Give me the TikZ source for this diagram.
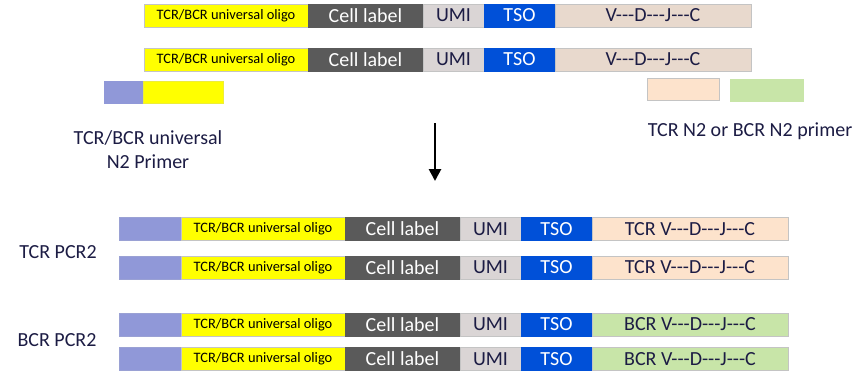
\documentclass[tikz,border=0pt]{standalone}
\usepackage{fontspec}
\setmainfont{Carlito}
\usetikzlibrary{arrows.meta,positioning}
\definecolor{oligoyellow}{HTML}{FFFF00}
\definecolor{cellgrey}{HTML}{5A5A5A}
\definecolor{umigrey}{HTML}{DAD5D5}
\definecolor{tsoblue}{HTML}{0050D8}
\definecolor{vdjtan}{HTML}{E8D9CD}
\definecolor{tcrpeach}{HTML}{FDE3CC}
\definecolor{bcrgreen}{HTML}{C8E5A8}
\definecolor{adapterpurple}{HTML}{9098D8}
\definecolor{navy}{HTML}{1C1C44}
\definecolor{segline}{HTML}{C4C4C4}
\newcommand\tdash{-{}-{}-}
\newcommand\vdjc{V\tdash D\tdash J\tdash C}

\begin{document}
\begin{tikzpicture}[
    x=0.75pt, y=-0.75pt,
    seg/.style={draw=segline, line width=0.5pt, minimum height=17.25pt, inner sep=0pt, outer sep=0pt, text=navy, font=\fontsize{15}{15}\selectfont},
    oligo/.style={seg, fill=oligoyellow, minimum width=123pt, text=black, font=\fontsize{10.8}{11}\selectfont},
    cell/.style={seg, fill=cellgrey, draw=cellgrey, minimum width=86.25pt, text=white},
    umi/.style={seg, fill=umigrey, minimum width=45.75pt},
    tso/.style={seg, fill=tsoblue, draw=tsoblue, minimum width=53.25pt, text=white},
    vdj/.style={seg, minimum width=147pt},
    adapter/.style={seg, fill=adapterpurple, draw=adapterpurple!80!segline, minimum width=46.5pt},
    primer/.style={seg, minimum height=16.5pt},
    label/.style={text=navy, font=\fontsize{15}{18}\selectfont, align=center},
    steparrow/.style={-{Triangle[length=9pt,width=9pt]}, line width=2pt, draw=black}
]
\useasboundingbox (0,0) rectangle (858,371);

% first-strand products
\foreach \r/\yc in {a/15.5, b/59.5} {
  \node[oligo, anchor=west] (oligo\r) at (144,\yc) {TCR/BCR universal oligo};
  \node[cell, right=0pt of oligo\r] (cell\r) {Cell label};
  \node[umi, right=0pt of cell\r] (umi\r) {UMI};
  \node[tso, right=0pt of umi\r] (tso\r) {TSO};
  \node[vdj, fill=vdjtan, right=0pt of tso\r] (vdj\r) {\vdjc};
}

% N2 primers
\node[primer, fill=adapterpurple, draw=adapterpurple, minimum width=29.25pt, anchor=west] (uniadapter) at (104,92) {};
\node[primer, fill=oligoyellow, draw=oligoyellow!70!segline, minimum width=60pt, right=0pt of uniadapter] (unioligo) {};
\node[primer, fill=tcrpeach, minimum width=54pt] (tcrprimer) at (683,89) {};
\node[primer, fill=bcrgreen, draw=bcrgreen, minimum width=54.75pt] (bcrprimer) at (766.5,90) {};
\node[label] (unilabel) at (148,150) {TCR/BCR universal\\N2 Primer};
\node[label] (n2label) at (750,131) {TCR N2 or BCR N2 primer};

\coordinate (arrowtop) at (435,123);
\coordinate (arrowtip) at (435,181);
\draw[steparrow] (arrowtop) -- (arrowtip);

% PCR2 products
\foreach \r/\yc/\tailfill/\tailname in {c/229/tcrpeach/TCR, d/267.5/tcrpeach/TCR, e/324.5/bcrgreen/BCR, f/359/bcrgreen/BCR} {
  \node[adapter, anchor=west] (adapter\r) at (119,\yc) {};
  \node[oligo, right=0pt of adapter\r] (oligo\r) {TCR/BCR universal oligo};
  \node[cell, right=0pt of oligo\r] (cell\r) {Cell label};
  \node[umi, right=0pt of cell\r] (umi\r) {UMI};
  \node[tso, right=0pt of umi\r] (tso\r) {TSO};
  \node[vdj, fill=\tailfill, right=0pt of tso\r] (vdj\r) {\tailname{} \vdjc};
}
\node[label] (tcrlabel) at (58,252) {TCR PCR2};
\node[label] (bcrlabel) at (57,340) {BCR PCR2};
\end{tikzpicture}
\end{document}
